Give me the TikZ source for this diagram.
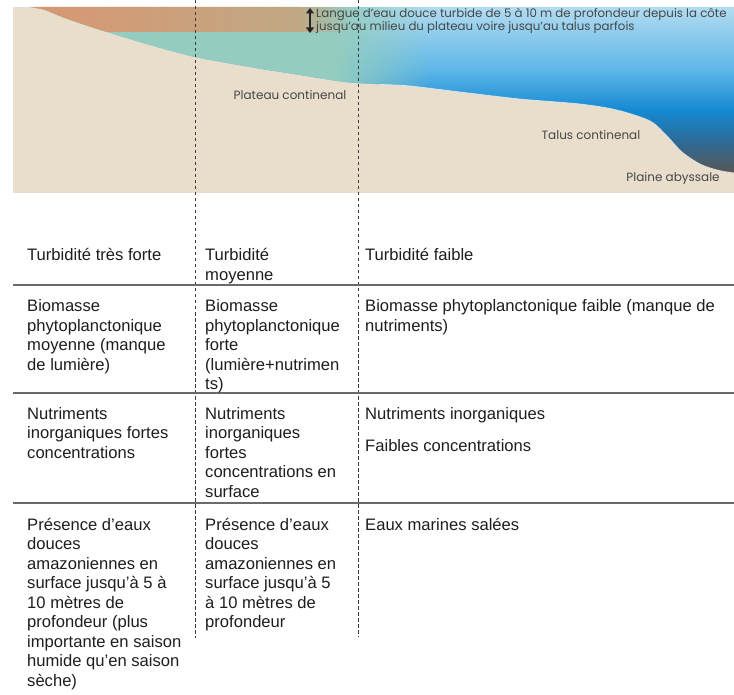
\documentclass[tikz,border=0pt]{standalone}
\usepackage{fontspec}
\setmainfont{Liberation Sans}
\newfontfamily\mapfont{Poppins}
\usetikzlibrary{fadings,arrows.meta}

\definecolor{sand}{HTML}{E9DDCC}
\definecolor{seaA}{HTML}{B3DCF1}
\definecolor{seaB}{HTML}{5DB6E8}
\definecolor{seaC}{HTML}{1589D2}
\definecolor{seaD}{HTML}{2F6A94}
\definecolor{seaE}{HTML}{575757}
\definecolor{turbid}{HTML}{94CDBF}
\definecolor{plume}{HTML}{D99670}
\definecolor{plumetan}{HTML}{C0A884}
\definecolor{maptext}{HTML}{474747}
\definecolor{tabtext}{HTML}{1E1E1E}
\definecolor{rule}{HTML}{6A6A6A}
\definecolor{divider}{HTML}{3A3A3A}

\newcommand\tablefont{\fontsize{16.6}{19.5}\selectfont}
\newcommand\labelfont{\mapfont\fontsize{12}{14}\selectfont}
% cell text: lines set with a fixed 19.5pt pitch, baseline on the first line
\newcommand\celltext[1]{\begin{tabular}[t]{@{}l@{}}#1\end{tabular}}

\tikzset{
  cell/.style={anchor=base west, inner sep=0pt, font=\tablefont, text=tabtext},
  maplabel/.style={inner sep=0pt, font=\labelfont, text=maptext},
  divline/.style={draw=divider, line width=0.9pt, dash pattern=on 3.5pt off 2.5pt},
  rowline/.style={draw=rule, line width=1.3pt}
}

\begin{document}
\begin{tikzpicture}[x=1pt,y=-1pt]
\useasboundingbox (0,0) rectangle (734,695);
\fill[white] (0,0) rectangle (734,695);

% ---- cross-section of the shelf ----
\fill[sand] (13,7) rectangle (734,193);

\begin{scope}
  \clip plot[smooth] coordinates {(30,7) (45,10) (62,17) (85,25) (110,33) (150,45)
        (195,57) (250,67) (300,75) (345,82) (375,84) (410,86) (460,92) (520,99)
        (580,104) (617,110) (650,121) (667,136) (682,152) (700,164) (717,170) (734,173)}
        -- (734,7) -- cycle;
  % open water, light at the surface and dark over the abyssal plain
  \shade[top color=seaA, bottom color=seaB] (13,6) rectangle (734,70.5);
  \shade[top color=seaB, bottom color=seaC] (13,70) rectangle (734,110.5);
  \shade[top color=seaC, bottom color=seaD] (13,110) rectangle (734,142.5);
  \shade[top color=seaD, bottom color=seaE] (13,142) rectangle (734,172);
  \fill[seaE] (13,171.5) rectangle (734,194);
  % turbid water over the shelf
  \fill[turbid] (13,7) rectangle (336,193);
  \fill[turbid, path fading=east] (335,7) rectangle (430,110);
  % fresh-water plume at the surface
  \shade[left color=plume, right color=plumetan] (13,7) rectangle (300,32);
  \fill[plumetan, path fading=east] (299,7) rectangle (350,32);
\end{scope}

% light rim along the slope
\draw[white!75!seaA, line width=0.8pt, opacity=0.7] plot[smooth] coordinates {(380,84.5) (410,86) (460,92) (520,99)
        (580,104) (617,110) (650,121) (667,136) (682,152) (700,164) (717,170) (734,173)};

% plume thickness arrow and caption
\coordinate (ptop) at (310,8);
\coordinate (pbot) at (310,33);
\draw[{Triangle[width=8pt,length=5.5pt]}-{Triangle[width=8pt,length=5.5pt]}, line width=1.6pt, draw=black!85] (ptop) -- (pbot);
\node[maplabel, anchor=north west, align=left, font=\mapfont\fontsize{11.8}{13}\selectfont, text=black!72] (plumecap) at (316,8.5)
  {Langue d’eau douce turbide de 5 à 10 m de profondeur depuis la côte\\jusqu’au milieu du plateau voire jusqu’au talus parfois};

\node[maplabel] (plateau) at (290,95) {Plateau continenal};
\node[maplabel] (talus) at (591,135) {Talus continenal};
\node[maplabel] (plaine) at (673,178) {Plaine abyssale};

% ---- zone dividers ----
\coordinate (d1top) at (195,0);
\coordinate (d1bot) at (195,638);
\coordinate (d2top) at (358,0);
\coordinate (d2bot) at (358,637);
\draw[divline] (d1top) -- (d1bot);
\draw[divline] (d2top) -- (d2bot);

% ---- table rules ----
\coordinate (r1l) at (13,285);  \coordinate (r1r) at (734,285);
\coordinate (r2l) at (13,393);  \coordinate (r2r) at (734,393);
\coordinate (r3l) at (13,503);  \coordinate (r3r) at (734,503);
\draw[rowline] (r1l) -- (r1r);
\draw[rowline] (r2l) -- (r2r);
\draw[rowline] (r3l) -- (r3r);

% ---- table cells ----
\node[cell] (turbA) at (27,261) {\celltext{Turbidité très forte}};
\node[cell] (turbB) at (205,261) {\celltext{Turbidité\\moyenne}};
\node[cell] (turbC) at (365,261) {\celltext{Turbidité faible}};

\node[cell] (bioA) at (27,312) {\celltext{Biomasse\\phytoplanctonique\\moyenne (manque\\de lumière)}};
\node[cell] (bioB) at (205,312) {\celltext{Biomasse\\phytoplanctonique\\forte\\(lumière+nutrimen\\ts)}};
\node[cell] (bioC) at (365,312) {\celltext{Biomasse phytoplanctonique faible (manque de\\nutriments)}};

\node[cell] (nutA) at (27,419) {\celltext{Nutriments\\inorganiques fortes\\concentrations}};
\node[cell] (nutB) at (205,419) {\celltext{Nutriments\\inorganiques\\fortes\\concentrations en\\surface}};
\node[cell] (nutC) at (365,419) {\celltext{Nutriments inorganiques}};
\node[cell] (nutD) at (365,451) {\celltext{Faibles concentrations}};

\node[cell] (eauA) at (27,530) {\celltext{Présence d’eaux\\douces\\amazoniennes en\\surface jusqu’à 5 à\\10 mètres de\\profondeur (plus\\importante en saison\\humide qu’en saison\\sèche)}};
\node[cell] (eauB) at (205,530) {\celltext{Présence d’eaux\\douces\\amazoniennes en\\surface jusqu’à 5\\à 10 mètres de\\profondeur}};
\node[cell] (eauC) at (365,530) {\celltext{Eaux marines salées}};
\end{tikzpicture}
\end{document}
